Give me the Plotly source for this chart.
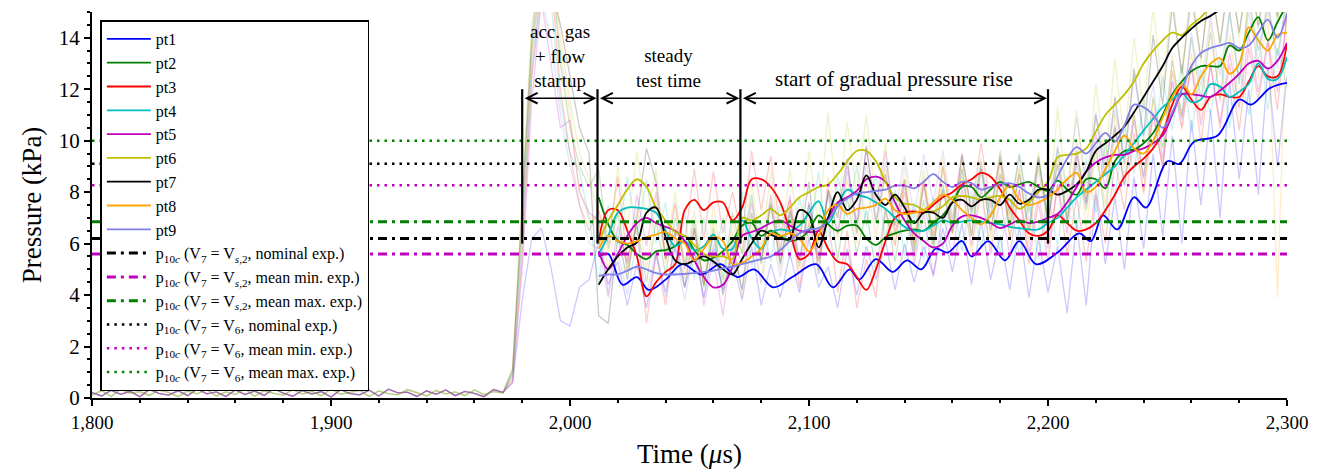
import numpy as np
import plotly.graph_objects as go

# ---------------- data ----------------
t_raw = np.arange(1800, 2301, 4)          # raw sample times (us)
t_s = np.arange(2012, 2301, 4)            # smoothed sample times (us)

base_a = [0.21, 0.08, 0.30, 0.14, 0.26, 0.05, 0.33, 0.18, 0.11, 0.28, 0.09, 0.35, 0.16, 0.24, 0.06,
          0.31, 0.13, 0.27, 0.10, 0.36, 0.19, 0.07, 0.29, 0.15, 0.25, 0.04, 0.32, 0.17, 0.12, 0.30,
          0.08, 0.34, 0.20, 0.23, 0.06, 0.28, 0.14, 0.31, 0.09, 0.26, 0.18, 0.05, 0.33, 0.22]
base_b = [0.12, 0.29, 0.06, 0.34, 0.19, 0.25, 0.10, 0.31, 0.22, 0.05, 0.27, 0.16, 0.33, 0.08, 0.24,
          0.13, 0.36, 0.07, 0.28, 0.18, 0.11, 0.32, 0.15, 0.26, 0.09, 0.35, 0.14, 0.21, 0.30, 0.06,
          0.27, 0.17, 0.12, 0.33, 0.20, 0.08, 0.29, 0.16, 0.24, 0.10, 0.31, 0.13, 0.25, 0.19]

raw_pt1 = [0.6, 3.8, 6.2, 6.6, 5.1, 3.0, 2.8, 4.3, 4.6,
           6.1, 4.4, 5.3, 3.6, 5.2, 3.5, 5.6, 4.1, 5.9, 4.3,
           5.7, 3.9, 5.8, 4.2, 5.4, 3.8, 5.9, 3.6, 5.2, 3.9,
           5.6, 4.1, 6.2, 4.3, 5.1, 3.5, 5.8, 4.0, 5.9, 4.6,
           6.1, 4.2, 6.0, 4.5, 5.9, 4.8, 6.6, 4.9, 6.8, 4.4,
           6.9, 4.6, 6.3, 4.2, 6.7, 3.9, 6.2, 4.1, 5.9, 3.3,
           6.8, 3.6, 7.9, 5.2, 7.8, 5.0, 8.6, 5.8, 9.5, 6.3,
           10.2, 6.0, 10.8, 7.5, 11.2, 7.0, 12.3, 8.5, 12.0, 7.9,
           12.9, 9.0, 12.5]
raw_pt2 = [1.0, 7.0, 13.5, 16.5, 17.0, 13.0, 10.5, 9.0, 8.2,
           8.9, 5.8, 7.2, 5.0, 6.7, 4.5, 6.9, 4.8, 7.0, 5.2,
           6.9, 4.3, 6.6, 4.6, 7.2, 5.6, 7.9, 5.2, 7.6, 5.3,
           7.2, 5.1, 7.5, 6.0, 7.9, 5.4, 7.8, 5.6, 7.3, 4.9,
           7.4, 5.3, 7.6, 5.5, 7.7, 5.7, 8.3, 6.5, 9.4, 7.1,
           9.0, 7.0, 9.6, 7.1, 9.5, 7.2, 9.4, 6.9, 9.7, 6.9,
           9.1, 7.3, 9.8, 7.0, 10.5, 8.3, 11.0, 8.6, 11.7, 9.7,
           13.1, 11.0, 14.0, 11.6, 14.2, 11.6, 15.0, 12.2, 15.5, 13.5,
           15.2, 13.3, 15.5]
raw_pt3 = [0.7, 5.5, 12.5, 16.0, 16.5, 12.0, 9.5, 7.5, 6.5,
           7.3, 6.0, 8.6, 5.3, 6.8, 2.9, 5.6, 3.6, 6.4, 6.1,
           8.9, 6.2, 8.8, 6.4, 8.0, 6.2, 9.6, 7.3, 9.4, 6.4,
           7.7, 4.3, 6.8, 5.3, 7.0, 4.1, 6.5, 3.5, 5.4, 3.9,
           7.3, 5.9, 8.3, 6.0, 8.4, 6.3, 9.0, 6.8, 9.5, 7.3,
           9.9, 7.4, 9.3, 6.2, 8.1, 5.2, 7.6, 5.3, 8.3, 5.6,
           7.8, 5.3, 8.1, 6.0, 9.2, 7.3, 10.3, 8.0, 11.0, 9.0,
           12.7, 10.9, 12.9, 9.9, 13.0, 10.5, 13.0, 10.4, 13.6, 11.6,
           13.8, 11.2, 15.0]
raw_pt4 = [0.9, 6.5, 13.0, 16.2, 15.5, 11.5, 9.5, 8.8, 7.0,
           4.4, 7.5, 6.0, 8.6, 6.3, 8.5, 6.0, 7.6, 4.8, 7.2,
           4.6, 7.0, 5.2, 7.0, 4.7, 8.0, 5.1, 6.9, 5.3, 7.6,
           5.4, 7.8, 6.1, 8.8, 5.7, 8.6, 7.0, 9.0, 6.7, 8.7,
           6.2, 8.1, 5.5, 7.6, 5.4, 7.8, 5.8, 7.9, 5.7, 8.0,
           5.8, 7.9, 5.6, 7.8, 5.5, 7.7, 5.4, 7.9, 5.9, 8.6,
           6.6, 9.3, 7.2, 9.9, 7.8, 10.6, 8.7, 11.6, 9.6, 12.5,
           10.4, 13.0, 10.3, 12.8, 11.0, 13.3, 10.5, 13.1, 11.0, 14.2,
           11.2, 13.6, 12.1]
raw_pt5 = [0.6, 5.0, 11.5, 15.5, 13.0, 10.5, 10.8, 8.0, 7.2,
           6.9, 4.0, 6.7, 5.2, 7.9, 5.9, 8.0, 5.4, 7.6, 5.0,
           6.6, 3.6, 5.4, 3.2, 6.2, 5.2, 7.6, 5.4, 7.9, 5.7,
           7.9, 5.3, 7.6, 5.4, 8.1, 6.4, 9.0, 6.8, 9.7, 7.4,
           9.6, 6.4, 8.0, 5.2, 7.2, 4.7, 7.2, 5.5, 8.2, 5.9,
           8.2, 5.6, 7.8, 5.5, 8.1, 5.6, 8.0, 5.8, 8.3, 6.4,
           9.4, 7.5, 10.3, 8.1, 10.6, 8.2, 10.8, 8.5, 11.1, 8.9,
           12.3, 10.5, 13.0, 10.6, 12.9, 10.7, 13.4, 11.3, 14.1, 11.9,
           13.9, 11.9, 14.8]
raw_pt6 = [1.2, 8.0, 14.5, 17.0, 17.5, 14.0, 11.5, 9.5, 8.5,
           7.2, 5.6, 9.0, 6.6, 9.6, 6.8, 8.9, 5.6, 8.0, 5.1,
           7.3, 4.3, 6.9, 4.3, 6.8, 5.6, 8.4, 5.7, 8.8, 5.8,
           8.9, 6.3, 9.6, 6.6, 11.1, 7.1, 10.7, 7.9, 11.0, 7.5,
           9.9, 6.3, 9.0, 6.0, 8.9, 5.8, 9.0, 6.4, 9.3, 6.3,
           9.3, 6.2, 9.4, 6.2, 8.9, 6.0, 9.6, 6.7, 11.3, 7.7,
           11.2, 7.8, 12.2, 9.2, 13.2, 9.9, 14.0, 11.1, 15.2, 11.9,
           15.8, 12.4, 16.2, 13.0, 16.5, 13.6, 17.0, 14.0, 17.0, 14.5,
           17.0, 14.6, 17.0]
raw_pt7 = [1.1, 7.5, 14.0, 17.0, 16.0, 14.5, 12.5, 10.5, 9.5,
           3.2, 2.9, 6.3, 4.6, 7.0, 9.7, 8.4, 5.4, 6.4, 4.3,
           6.6, 4.4, 6.4, 4.0, 5.8, 4.2, 7.2, 5.3, 7.5, 5.2,
           7.3, 6.1, 8.4, 4.8, 8.1, 7.0, 9.3, 6.4, 9.8, 6.8,
           8.7, 6.7, 8.5, 5.7, 8.3, 6.0, 8.1, 6.4, 8.9, 6.3,
           8.9, 6.5, 8.7, 6.7, 8.7, 6.5, 9.3, 6.9, 9.1, 6.9,
           9.6, 7.6, 11.0, 8.6, 11.7, 9.1, 12.8, 10.2, 14.1, 11.4,
           15.3, 12.6, 15.6, 13.2, 16.2, 13.8, 16.5, 14.2, 16.8, 14.4,
           17.0, 14.8, 17.0]
raw_pt8 = [0.9, 6.8, 13.5, 16.5, 17.0, 13.5, 11.0, 8.0, 7.0,
           7.0, 5.0, 7.5, 4.8, 7.4, 5.0, 7.7, 5.2, 7.5, 4.6,
           6.5, 4.4, 7.5, 5.0, 6.5, 3.9, 6.8, 4.5, 7.8, 5.0,
           7.7, 4.8, 7.0, 5.0, 8.6, 6.2, 8.5, 6.0, 8.7, 6.2,
           9.0, 6.0, 8.5, 5.9, 8.6, 6.3, 9.3, 6.4, 8.6, 5.6,
           8.0, 5.8, 9.1, 6.9, 9.0, 6.2, 8.9, 6.4, 9.4, 7.1,
           10.1, 6.6, 9.6, 7.5, 11.0, 8.6, 11.2, 7.9, 11.6, 9.2,
           13.3, 10.4, 13.4, 10.8, 14.6, 11.5, 14.1, 11.2, 15.8, 12.4,
           15.0, 3.9, 15.5]
raw_pt9 = [0.8, 6.0, 12.5, 15.5, 14.0, 11.0, 9.0, 7.5, 6.0,
           5.8, 3.9, 5.7, 4.0, 6.2, 4.0, 5.8, 3.9, 5.8, 3.8,
           5.9, 3.9, 6.0, 4.1, 6.1, 4.2, 6.5, 4.4, 6.6, 4.7,
           7.1, 5.4, 7.6, 5.5, 8.0, 6.4, 8.8, 6.8, 9.1, 6.9,
           9.2, 7.1, 9.4, 7.0, 9.5, 7.6, 9.6, 7.0, 9.5, 7.2,
           9.2, 7.0, 9.4, 7.2, 9.4, 6.8, 9.0, 6.7, 9.8, 8.1,
           10.9, 8.3, 11.1, 9.1, 11.2, 9.4, 12.6, 10.1, 12.2, 9.3,
           12.3, 10.8, 14.2, 12.1, 14.8, 12.5, 15.0, 12.4, 15.0, 13.0,
           15.6, 12.8, 16.0]

# smoothed curves
pt1_t = [2012, 2016, 2022, 2028, 2033, 2040, 2047, 2055, 2063, 2070, 2077, 2085, 2093, 2103, 2110,
         2117, 2121, 2128, 2135, 2141, 2147, 2153, 2158, 2164, 2168, 2175, 2182, 2188, 2195, 2204,
         2213, 2218, 2223, 2229, 2236, 2241, 2250, 2255, 2261, 2271, 2280, 2285, 2293, 2300]
pt1_s = [5.5, 5.6, 4.4, 4.7, 4.2, 4.6, 5.2, 4.8, 5.2, 4.7, 5.0, 4.3, 4.7, 5.2, 4.3,
         5.0, 4.6, 5.4, 4.9, 5.35, 5.0, 5.8, 5.65, 6.1, 5.5, 6.1, 5.35, 6.1, 5.2, 5.65,
         6.4, 6.1, 7.1, 6.55, 7.8, 7.4, 9.2, 9.1, 9.95, 10.2, 11.6, 11.4, 12.05, 12.25]
pt2_s = [7.8, 6.75, 6.1, 5.95, 5.6, 5.4, 5.7, 5.75, 5.9, 6.3,
         5.75, 5.35, 5.45, 5.7, 6.1, 6.7, 6.8, 6.3, 6.5, 6.3,
         6.1, 6.2, 6.5, 7.1, 6.75, 6.5, 6.7, 6.7, 6.2, 5.95,
         6.25, 6.4, 6.5, 6.55, 6.5, 6.8, 7.1, 7.6, 8.2, 8.2,
         7.8, 8.1, 8.4, 8.2, 8.3, 8.4, 8.2, 8.05, 8.45, 8.1,
         7.9, 8.5, 8.5, 8.15, 9.2, 9.6, 9.65, 9.9, 10.3, 11.0,
         11.8, 12.3, 12.7, 12.9, 12.9, 12.9, 13.7, 13.5, 14.2, 14.8,
         13.9, 14.6, 15.3]
pt3_s = [6.1, 7.3, 7.3, 6.5, 5.5, 3.95, 4.5, 4.9, 5.2, 7.3,
         7.7, 7.3, 7.6, 7.6, 6.9, 7.4, 8.5, 8.5, 8.2, 7.6,
         6.5, 5.4, 5.6, 6.5, 5.8, 5.3, 5.2, 4.7, 4.2, 5.0,
         6.1, 7.0, 7.2, 7.25, 7.2, 7.5, 7.8, 8.0, 8.3, 8.5,
         8.75, 8.6, 8.1, 7.4, 6.9, 6.4, 6.3, 6.5, 7.1, 6.8,
         6.5, 6.55, 6.8, 7.3, 7.9, 8.6, 9.0, 9.3, 9.7, 10.3,
         11.4, 12.1, 11.6, 11.2, 11.7, 11.8, 11.7, 11.7, 12.3, 12.9,
         12.5, 12.5, 13.8]
pt4_s = [5.6, 6.3, 7.2, 7.4, 7.4, 7.35, 7.2, 6.5, 5.9, 6.1,
         5.75, 5.9, 6.35, 5.8, 5.8, 6.9, 6.2, 5.8, 6.4, 6.55,
         6.5, 6.7, 7.2, 7.65, 6.8, 7.5, 8.1, 7.9, 7.8, 7.6,
         7.35, 7.0, 6.65, 6.5, 6.5, 6.7, 6.9, 6.8, 6.85, 6.9,
         6.85, 6.8, 6.75, 6.65, 6.6, 6.55, 6.55, 6.8, 7.0, 7.4,
         7.8, 8.1, 8.4, 8.7, 9.0, 9.45, 9.9, 10.4, 10.85, 11.3,
         11.6, 11.85, 11.5, 11.6, 12.2, 12.1, 11.7, 11.9, 12.2, 13.0,
         12.4, 12.4, 13.25]
pt5_s = [5.7, 5.0, 5.6, 6.3, 6.8, 7.0, 6.8, 6.65, 6.5, 6.1,
         5.35, 4.7, 4.3, 4.4, 5.1, 6.3, 6.45, 6.6, 6.8, 6.9,
         6.7, 6.5, 6.45, 6.5, 7.0, 7.6, 7.8, 8.05, 8.5, 8.6,
         8.4, 7.6, 6.9, 6.4, 6.1, 5.85, 6.0, 6.7, 7.05, 7.1,
         7.0, 6.8, 6.6, 6.75, 6.9, 6.8, 6.85, 7.0, 7.15, 7.6,
         8.2, 8.8, 9.15, 9.35, 9.45, 9.45, 9.6, 9.7, 9.9, 10.2,
         11.0, 11.8, 11.8, 11.75, 11.7, 11.95, 12.25, 12.6, 13.0, 13.1,
         12.8, 13.1, 13.8]
pt6_s = [6.0, 6.9, 7.5, 8.1, 8.5, 8.2, 7.4, 6.9, 6.45, 6.3,
         5.95, 5.6, 5.5, 5.5, 5.4, 7.0, 6.9, 7.1, 7.35, 7.1,
         7.4, 7.8, 8.0, 8.2, 8.3, 8.7, 9.2, 9.6, 9.6, 9.2,
         8.4, 7.8, 7.55, 7.5, 7.3, 7.25, 7.45, 7.8, 7.85, 7.8,
         7.7, 7.8, 7.85, 7.7, 7.35, 7.6, 8.0, 8.4, 9.35, 9.45,
         9.5, 9.7, 10.35, 11.0, 11.4, 11.8, 12.3, 13.0, 13.5, 13.9,
         14.2, 14.1, 14.5, 14.8, 15.2, 15.5, 15.8, 16.0, 16.2, 16.3,
         16.5, 16.6, 16.8]
pt7_s = [4.4, 5.0, 5.5, 5.85, 6.05, 7.2, 7.4, 6.25, 5.35, 5.2,
         5.35, 5.5, 5.3, 5.0, 4.8, 5.4, 6.0, 6.5, 6.35, 6.2,
         6.2, 7.3, 7.1, 5.85, 7.0, 8.0, 7.3, 7.7, 8.65, 7.9,
         7.5, 7.9, 7.4, 6.8, 7.2, 7.2, 7.0, 7.6, 7.7, 7.45,
         7.7, 7.7, 7.5, 7.9, 7.55, 7.7, 8.1, 8.1, 7.9, 8.05,
         8.3, 8.8, 9.6, 9.9, 10.2, 10.55, 11.1, 11.7, 12.3, 12.9,
         13.6, 14.0, 14.35, 14.65, 14.85, 15.1, 15.4, 15.7, 16.0, 16.2,
         16.4, 16.6, 16.8]
pt8_s = [5.8, 6.3, 6.1, 6.0, 6.1, 6.25, 6.35, 6.45, 6.2, 6.0,
         5.35, 5.8, 6.25, 6.1, 5.2, 5.25, 5.5, 5.8, 6.4, 6.3,
         6.4, 6.2, 5.7, 6.3, 7.3, 7.5, 7.15, 7.35, 7.4, 7.5,
         7.75, 7.3, 7.15, 7.2, 7.3, 7.6, 7.9, 7.7, 7.3, 7.0,
         6.75, 7.1, 7.8, 8.25, 7.7, 7.5, 7.6, 7.8, 8.1, 8.5,
         8.75, 8.0, 8.2, 8.9, 9.6, 10.2, 9.7, 9.5, 10.0, 10.9,
         11.7, 12.2, 11.8, 12.5, 13.0, 13.2, 12.6, 13.0, 14.4, 13.9,
         13.5, 14.1, 14.2]
pt9_s = [4.75, 4.8, 4.8, 4.95, 5.1, 5.0, 4.85, 4.8, 4.8, 4.82,
         4.85, 4.9, 4.95, 5.05, 5.1, 5.2, 5.3, 5.4, 5.5, 5.75,
         6.1, 6.4, 6.55, 6.6, 6.9, 7.45, 7.75, 7.95, 8.0, 8.05,
         8.1, 8.25, 8.25, 8.15, 8.4, 8.7, 8.4, 8.2, 8.4, 8.35,
         8.1, 8.2, 8.3, 8.35, 8.2, 7.95, 7.8, 7.9, 8.6, 9.3,
         9.75, 9.5, 9.9, 10.3, 9.95, 10.6, 11.4, 11.3, 11.0, 10.5,
         11.1, 12.0, 12.9, 13.4, 13.6, 13.7, 13.8, 13.6, 13.7, 14.2,
         14.7, 14.0, 14.95]

names = ["pt1", "pt2", "pt3", "pt4", "pt5", "pt6", "pt7", "pt8", "pt9"]
colors = ["#0000ff", "#008000", "#ff0000", "#00bfbf", "#bf00bf", "#bfbf00", "#000000", "#ffa500", "#8080e6"]
raws = [raw_pt1, raw_pt2, raw_pt3, raw_pt4, raw_pt5, raw_pt6, raw_pt7, raw_pt8, raw_pt9]
smooth_y = [pt1_s, pt2_s, pt3_s, pt4_s, pt5_s, pt6_s, pt7_s, pt8_s, pt9_s]
smooth_t = [pt1_t] + [list(t_s)] * 8

# reference pressure levels p10c (kPa)
ref_names = [
    "p<sub>10<i>c</i></sub> (V<sub>7</sub> = V<sub><i>s</i>,2</sub>, nominal exp.)",
    "p<sub>10<i>c</i></sub> (V<sub>7</sub> = V<sub><i>s</i>,2</sub>, mean min. exp.)",
    "p<sub>10<i>c</i></sub> (V<sub>7</sub> = V<sub><i>s</i>,2</sub>, mean max. exp.)",
    "p<sub>10<i>c</i></sub> (V<sub>7</sub> = V<sub>6</sub>, nominal exp.)",
    "p<sub>10<i>c</i></sub> (V<sub>7</sub> = V<sub>6</sub>, mean min. exp.)",
    "p<sub>10<i>c</i></sub> (V<sub>7</sub> = V<sub>6</sub>, mean max. exp.)",
]
ref_vals = [6.2, 5.6, 6.85, 9.1, 8.27, 10.0]
ref_colors = ["#000000", "#bf00bf", "#008000", "#000000", "#bf00bf", "#008000"]
ref_dash = ["dashdot", "dashdot", "dashdot", "dot", "dot", "dot"]

# phase boundaries and labels (multi-line labels, bottom line sits just above the arrows)
phase_t = [1980, 2011.5, 2071.3, 2200]
phase_lo, phase_hi, arrow_p = 6.0, 12.0, 11.65
labels = [
    (1995.7, "acc. gas<br>+ flow<br>startup"),
    (2041.4, "steady<br>test time"),
    (2135.6, "start of gradual pressure rise"),
]
label_base = 11.85

FONT = "Liberation Serif, Times New Roman, serif"

# ---------------- figure ----------------
fig = go.Figure()

for i in range(9):
    y = (base_a if i % 2 == 0 else base_b) + raws[i]
    n = min(len(t_raw), len(y))
    fig.add_trace(go.Scatter(x=t_raw[:n], y=y[:n], mode="lines", showlegend=False,
                             line=dict(color=colors[i], width=1.3), opacity=0.2, hoverinfo="skip"))

for i in range(9):
    tt, yy = smooth_t[i], smooth_y[i]
    n = min(len(tt), len(yy))
    fig.add_trace(go.Scatter(x=tt[:n], y=yy[:n], mode="lines", name=names[i],
                             line=dict(color=colors[i], width=1.8, shape="spline", smoothing=1.0)))

dash_map = {"dashdot": "9px,5px,3px,5px", "dot": "2.5px,5px"}
for nm, v, c, d in zip(ref_names, ref_vals, ref_colors, ref_dash):
    fig.add_trace(go.Scatter(x=[1800, 2300], y=[v, v], mode="lines", name=nm,
                             line=dict(color=c, width=3 if d == "dashdot" else 2.5, dash=dash_map[d])))

for t in phase_t:
    fig.add_shape(type="line", x0=t, x1=t, y0=phase_lo, y1=phase_hi, xref="x", yref="y",
                  line=dict(color="black", width=2.2))

for a, b in zip(phase_t[:-1], phase_t[1:]):
    fig.add_annotation(x=b, y=arrow_p, ax=a, ay=arrow_p, xref="x", yref="y", axref="x", ayref="y",
                       text="", showarrow=True, arrowhead=5, startarrowhead=5, arrowside="end+start",
                       arrowsize=1.3, arrowwidth=1.6, arrowcolor="black", standoff=1, startstandoff=1)

for x, txt in labels:
    fig.add_annotation(x=x, y=label_base, text=txt, showarrow=False, xref="x", yref="y",
                       yanchor="bottom", align="center",
                       font=dict(family=FONT, size=19 if "<br>" in txt else 21, color="black"))

fig.update_layout(
    width=1325, height=476,
    margin=dict(l=92, r=38, t=12, b=72),
    paper_bgcolor="white", plot_bgcolor="white",
    font=dict(family=FONT, size=18, color="black"),
    showlegend=True,
    legend=dict(x=0.007, y=0.978, xanchor="left", yanchor="top", bgcolor="white",
                bordercolor="black", borderwidth=1.5, font=dict(family=FONT, size=16, color="black"),
                tracegroupgap=0, itemwidth=44),
)
fig.update_xaxes(range=[1800, 2300], dtick=100, tickformat=",d", showgrid=False, zeroline=False,
                 showline=True, linecolor="black", linewidth=2, ticks="outside", ticklen=6, tickwidth=1.5,
                 tickcolor="black", minor=dict(dtick=20, ticks="outside", ticklen=3, tickcolor="black"),
                 tickfont=dict(family=FONT, size=19),
                 title=dict(text="Time (<i>μ</i>s)", font=dict(family=FONT, size=27), standoff=12))
fig.update_yaxes(range=[0, 15], dtick=2, showgrid=False, zeroline=False,
                 showline=True, linecolor="black", linewidth=2, ticks="outside", ticklen=6, tickwidth=1.5,
                 tickcolor="black", minor=dict(dtick=0.5, ticks="outside", ticklen=3, tickcolor="black"),
                 tickfont=dict(family=FONT, size=21),
                 title=dict(text="Pressure (kPa)", font=dict(family=FONT, size=27), standoff=9))

fig.write_html("out.html", config={"displayModeBar": False},
               post_script="document.body.style.margin='0px';document.body.style.padding='0px';")
